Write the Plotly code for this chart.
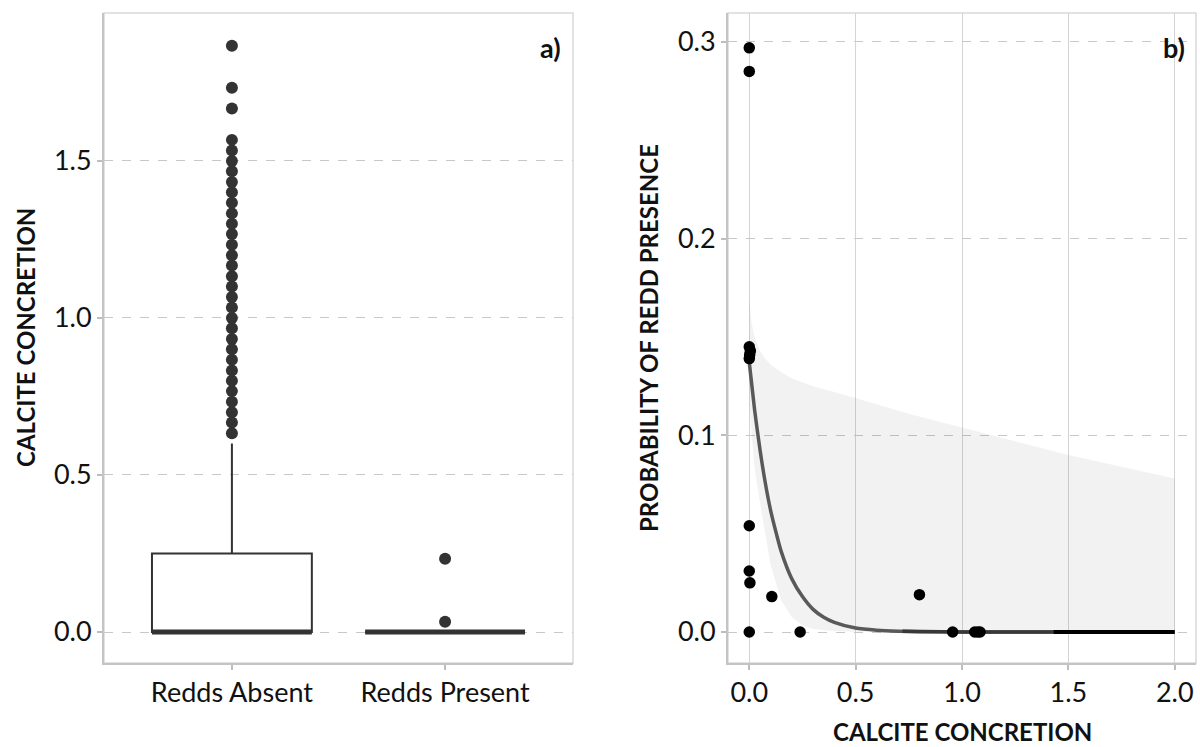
import plotly.graph_objects as go

# ---------------- data: panel a) ----------------
categories = ["Redds Absent", "Redds Present"]
box_q1 = [0.0, 0.0]
box_median = [0.0, 0.0]
box_q3 = [0.25, 0.0]
box_lower = [0.0, 0.0]
box_upper = [0.60, 0.0]

absent_outliers = [0.633, 0.667, 0.700, 0.733, 0.767, 0.800, 0.833, 0.867, 0.900, 0.933,
                   0.967, 1.000, 1.033, 1.067, 1.100, 1.133, 1.167, 1.200, 1.233, 1.267,
                   1.300, 1.333, 1.367, 1.400, 1.433, 1.467, 1.500, 1.533, 1.567,
                   1.667, 1.733, 1.867]
present_outliers = [0.033, 0.233]

# ---------------- data: panel b) ----------------
obs_x = [0.0, 0.0, 0.0, 0.005, 0.0, 0.002, 0.0, 0.0, 0.003, 0.106, 0.0, 0.239,
         0.80, 0.956, 1.06, 1.075, 1.085]
obs_y = [0.297, 0.285, 0.145, 0.143, 0.139, 0.141, 0.054, 0.031, 0.025, 0.018, 0.0, 0.0,
         0.019, 0.0, 0.0, 0.0, 0.0]

fit_x = [0, 0.025, 0.05, 0.075, 0.1, 0.125, 0.15, 0.2, 0.25, 0.3, 0.35, 0.4, 0.5, 0.6,
         0.7, 0.8, 1.0, 1.25, 1.5, 1.75, 2.0]
fit_y = [0.137, 0.113, 0.093, 0.076, 0.062, 0.051, 0.041, 0.027, 0.018, 0.0115, 0.0075,
         0.0049, 0.0020, 0.0009, 0.0004, 0.00015, 0.00003, 0.0, 0.0, 0.0, 0.0]

dark_x = [0.72, 1.0, 1.43]
dark_y = [0.0004, 0.00003, 0.0]
black_x = [1.43, 2.0]
black_y = [0.0, 0.0]

ci_x = [0, 0.005, 0.01, 0.025, 0.05, 0.075, 0.1, 0.15, 0.2, 0.25, 0.3, 0.4, 0.5, 0.75,
        1.0, 1.25, 1.5, 1.75, 2.0]
ci_upper = [0.170, 0.163, 0.158, 0.150, 0.143, 0.139, 0.136, 0.132, 0.129, 0.127, 0.125,
            0.122, 0.119, 0.111, 0.104, 0.097, 0.090, 0.084, 0.078]
ci_lower = [0.115, 0.108, 0.100, 0.083, 0.066, 0.050, 0.034, 0.016, 0.0075, 0.0033,
            0.0015, 0.0004, 0.0001, 0.0, 0.0, 0.0, 0.0, 0.0, 0.0]

left_yticks = [0.0, 0.5, 1.0, 1.5]
right_yticks = [0.0, 0.1, 0.2, 0.3]
right_xticks = [0.0, 0.5, 1.0, 1.5, 2.0]

# ---------------- figure ----------------
W, H = 1200, 747
FONT = "Lato"
DARK = "#333333"

fig = go.Figure()

# boxes
fig.add_trace(go.Box(
    x=categories, q1=box_q1, median=box_median, q3=box_q3,
    lowerfence=box_lower, upperfence=box_upper,
    boxpoints=False, width=0.75, whiskerwidth=0,
    line=dict(color=DARK, width=2), fillcolor="rgba(255,255,255,0)",
    xaxis="x", yaxis="y", showlegend=False, hoverinfo="skip"))
# thick median lines
fig.add_trace(go.Box(
    x=categories, q1=box_median, median=box_median, q3=box_median,
    lowerfence=box_median, upperfence=box_median,
    boxpoints=False, width=0.75, whiskerwidth=0,
    line=dict(color=DARK, width=5), fillcolor="rgba(255,255,255,0)",
    xaxis="x", yaxis="y", showlegend=False, hoverinfo="skip"))
# outliers
fig.add_trace(go.Scatter(
    x=[categories[0]] * len(absent_outliers) + [categories[1]] * len(present_outliers),
    y=absent_outliers + present_outliers, mode="markers",
    marker=dict(color=DARK, size=12), xaxis="x", yaxis="y", showlegend=False))

# ribbon
fig.add_trace(go.Scatter(x=ci_x, y=ci_lower, mode="lines", line=dict(width=0),
                         xaxis="x2", yaxis="y2", showlegend=False, hoverinfo="skip"))
fig.add_trace(go.Scatter(x=ci_x, y=ci_upper, mode="lines", line=dict(width=0),
                         fill="tonexty", fillcolor="rgba(0,0,0,0.05)",
                         xaxis="x2", yaxis="y2", showlegend=False, hoverinfo="skip"))
# fitted curve
fig.add_trace(go.Scatter(x=fit_x, y=fit_y, mode="lines",
                         line=dict(color="#595959", width=3.5, shape="spline", smoothing=0.6),
                         xaxis="x2", yaxis="y2", showlegend=False))
fig.add_trace(go.Scatter(x=dark_x, y=dark_y, mode="lines",
                         line=dict(color="#383838", width=3.5, shape="spline"),
                         xaxis="x2", yaxis="y2", showlegend=False))
fig.add_trace(go.Scatter(x=black_x, y=black_y, mode="lines",
                         line=dict(color="#000000", width=4),
                         xaxis="x2", yaxis="y2", showlegend=False))
# observations
fig.add_trace(go.Scatter(x=obs_x, y=obs_y, mode="markers",
                         marker=dict(color="#000000", size=11.5),
                         xaxis="x2", yaxis="y2", showlegend=False))


def px_x(p):
    return p / W


def px_y(p):
    return 1 - p / H


ydom = [px_y(663), px_y(13)]
tickfont = dict(family=FONT, size=27, color="#111111")
axis_common = dict(showline=True, linecolor="#c4c4c4", linewidth=2, ticks="outside",
                   ticklen=5, tickwidth=1.5, tickcolor="#bdbdbd", tickfont=tickfont,
                   zeroline=False, automargin=False, fixedrange=True)

fig.update_layout(
    width=W, height=H, margin=dict(l=0, r=0, t=0, b=0),
    paper_bgcolor="white", plot_bgcolor="white", boxmode="overlay",
    showlegend=False,
    xaxis=dict(domain=[px_x(104), px_x(573)], range=[-0.6, 1.6], type="category",
               showgrid=False, anchor="y", **axis_common),
    yaxis=dict(domain=ydom, range=[-0.0987, 1.971], tickvals=left_yticks,
               tickformat=".1f", showgrid=True, gridcolor="#c8c8c8", gridwidth=1,
               griddash="dash", anchor="x", **axis_common),
    xaxis2=dict(domain=[px_x(728), px_x(1196)], range=[-0.1, 2.1], tickvals=right_xticks,
                tickformat=".1f", showgrid=True, gridcolor="#d4d4d4", gridwidth=1,
                anchor="y2", **axis_common),
    yaxis2=dict(domain=ydom, range=[-0.01576, 0.3147], tickvals=right_yticks,
                tickformat=".1f", showgrid=True, gridcolor="#c8c8c8", gridwidth=1,
                griddash="dash", anchor="x2", **axis_common),
)

# light frames around panels
for xr, yr in (("x domain", "y domain"), ("x2 domain", "y2 domain")):
    fig.add_shape(type="rect", xref=xr, yref=yr, x0=0, x1=1, y0=0, y1=1,
                  line=dict(color="#d9d9d9", width=1.5), layer="below")

title_font = dict(family=FONT, size=24, color="#111111")
fig.add_annotation(text="<b>a)</b>", x=px_x(563), y=px_y(47), xref="paper", yref="paper",
                   xanchor="right", yanchor="middle", showarrow=False,
                   font=dict(family=FONT, size=27, color="#111111"))
fig.add_annotation(text="<b>b)</b>", x=px_x(1187), y=px_y(47), xref="paper", yref="paper",
                   xanchor="right", yanchor="middle", showarrow=False,
                   font=dict(family=FONT, size=27, color="#111111"))
fig.add_annotation(text="<b>CALCITE CONCRETION</b>", x=px_x(25), y=px_y(338),
                   xref="paper", yref="paper", textangle=-90, showarrow=False,
                   xanchor="center", yanchor="middle", font=title_font)
fig.add_annotation(text="<b>PROBABILITY OF REDD PRESENCE</b>", x=px_x(648), y=px_y(338),
                   xref="paper", yref="paper", textangle=-90, showarrow=False,
                   xanchor="center", yanchor="middle", font=title_font)
fig.add_annotation(text="<b>CALCITE CONCRETION</b>", x=px_x(962), y=px_y(731),
                   xref="paper", yref="paper", showarrow=False,
                   xanchor="center", yanchor="middle", font=title_font)

fig.write_html(
    "out.html",
    config={"displayModeBar": False},
    post_script="document.body.style.margin='0px';document.body.style.overflow='hidden';",
)
